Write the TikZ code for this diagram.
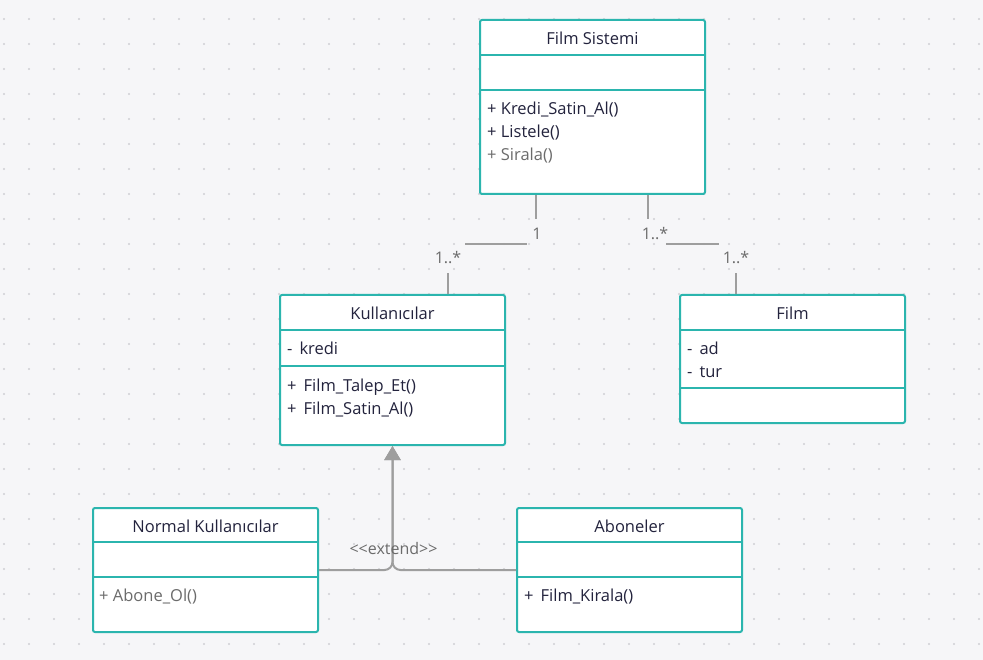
\documentclass[tikz,border=0pt]{standalone}
\usepackage{fontspec}
\setmainfont{Open Sans}
\usepackage{tikz}
\usetikzlibrary{arrows.meta,positioning,calc}
\definecolor{umlvien}{HTML}{2BB5AE}
\definecolor{umlchu}{HTML}{23233D}
\definecolor{umlxam}{HTML}{9E9E9E}
\definecolor{umlnhat}{HTML}{6B6B6B}
\definecolor{umlnen}{HTML}{F6F6F8}
\definecolor{umlcham}{HTML}{CFCFD4}
\def\mauvien{umlvien}
\def\mauchu{umlchu}
\def\mauxam{umlxam}
\begin{document}
\begin{tikzpicture}[x=1pt,y=-1pt,declare function={w=225;}]
		\tikzstyle{lop} = [draw=\mauvien,line width=2pt,rounded corners=2pt,fill=white,minimum width=w,inner sep=0pt,anchor=north west]
		\tikzstyle{vach} = [\mauvien,line width=2pt]
		\tikzstyle{tieude} = [text=\mauchu,font=\fontsize{16.5}{19}\selectfont,inner sep=0pt]
		\tikzstyle{thanhvien} = [text=\mauchu,font=\fontsize{16.5}{19}\selectfont,inner sep=0pt,anchor=west]
		\tikzstyle{lienket} = [\mauxam,line width=2pt]
		\tikzstyle{boi} = [text=umlnhat,font=\fontsize{16}{18}\selectfont,inner xsep=1pt,minimum height=30pt]
		\tikzstyle{ketthua} = [\mauxam,line width=2pt,rounded corners=8pt,-{Triangle[width=16pt,length=14pt]}]
		% nen va luoi cham
		\fill[umlnen] (0,0) rectangle (983,660);
		\useasboundingbox (0,0) rectangle (983,660);
		\foreach \i in {0,...,39}
			\foreach \j in {0,...,25}
				\fill[umlcham] ({4+25*\i},{19+25*\j}) circle (1.1);
		% cac lop
		\node[lop,minimum height=174] (sistem) at (479,19) {};
		\node[lop,minimum height=150] (kullanici) at (279,294) {};
		\node[lop,minimum height=128] (film) at (679,294) {};
		\node[lop,minimum height=124] (normal) at (92,507) {};
		\node[lop,minimum height=124] (abone) at (516,507) {};
		% lien ket
		\coordinate (s1) at ($(sistem.south west)+(57,0)$);
		\coordinate (s2) at ($(sistem.south west)+(169,0)$);
		\coordinate (k1) at ($(kullanici.north west)+(169,0)$);
		\coordinate (f1) at ($(film.north west)+(57,0)$);
		\coordinate (g1) at ($(s1)!.5!(k1)$);
		\coordinate (g2) at ($(s2)!.5!(f1)$);
		\node[boi,minimum width=20] (nhan-s1) at ($(s1)+(1,39)$) {1};
		\node[boi] (nhan-k1) at ($(k1)+(0,-36)$) {1..*};
		\node[boi] (nhan-s2) at ($(s2)+(7,39)$) {1..*};
		\node[boi] (nhan-f1) at ($(f1)+(0,-36)$) {1..*};
		\draw[lienket] (s1) -- (s1 |- nhan-s1.north);
		\draw[lienket] (nhan-s1.west |- g1) -- ([xshift=3pt]nhan-k1.east |- g1);
		\draw[lienket] (k1 |- nhan-k1.south) -- (k1);
		\draw[lienket] (s2) -- (s2 |- nhan-s2.north);
		\draw[lienket] ([xshift=-3pt]nhan-s2.east |- g2) -- ([xshift=-3pt]nhan-f1.west |- g2);
		\draw[lienket] (f1 |- nhan-f1.south) -- (f1);
		\draw[ketthua] (normal.east) -| (kullanici.south);
		\draw[ketthua] (abone.west) -| (kullanici.south);
		\node[text=umlnhat,font=\fontsize{16}{18}\selectfont,inner sep=0pt] (extend) at ($(kullanici.south)+(1,102)$) {<\kern0pt<extend>\kern0pt>};
		% ngan chia
		\foreach \l/\a/\b in {sistem/36/71,kullanici/36/72,film/36/94,normal/35/70,abone/35/70}{
			\draw[vach] ($(\l.north west)+(0,\a)$) -- ($(\l.north east)+(0,\a)$);
			\draw[vach] ($(\l.north west)+(0,\b)$) -- ($(\l.north east)+(0,\b)$);
		}
		% chu
		\node[tieude] (sistem-ten) at ($(sistem.north)+(0,19)$) {Film Sistemi};
		\node[thanhvien] (sistem-m1) at ($(sistem.north west)+(8,91)$) {+ Kredi\_Satin\_Al()};
		\node[thanhvien] (sistem-m2) at ($(sistem.north west)+(8,114)$) {+ Listele()};
		\node[thanhvien,text=umlnhat] (sistem-m3) at ($(sistem.north west)+(8,137)$) {+ Sirala()};
		\node[tieude] (kullanici-ten) at ($(kullanici.north)+(0,19)$) {Kullanıcılar};
		\node[thanhvien] (kullanici-a1) at ($(kullanici.north west)+(8,54)$) {-\hspace{7pt}kredi};
		\node[thanhvien] (kullanici-m1) at ($(kullanici.north west)+(8,93)$) {+\hspace{7pt}Film\_Talep\_Et()};
		\node[thanhvien] (kullanici-m2) at ($(kullanici.north west)+(8,116)$) {+\hspace{7pt}Film\_Satin\_Al()};
		\node[tieude] (film-ten) at ($(film.north)+(0,19)$) {Film};
		\node[thanhvien] (film-a1) at ($(film.north west)+(8,54)$) {-\hspace{7pt}ad};
		\node[thanhvien] (film-a2) at ($(film.north west)+(8,78)$) {-\hspace{7pt}tur};
		\node[tieude] (normal-ten) at ($(normal.north)+(0,19)$) {Normal Kullanıcılar};
		\node[thanhvien,text=umlnhat] (normal-m1) at ($(normal.north west)+(7,90)$) {+ Abone\_Ol()};
		\node[tieude] (abone-ten) at ($(abone.north)+(0,19)$) {Aboneler};
		\node[thanhvien] (abone-m1) at ($(abone.north west)+(8,90)$) {+\hspace{7pt}Film\_Kirala()};
\end{tikzpicture}
\end{document}
